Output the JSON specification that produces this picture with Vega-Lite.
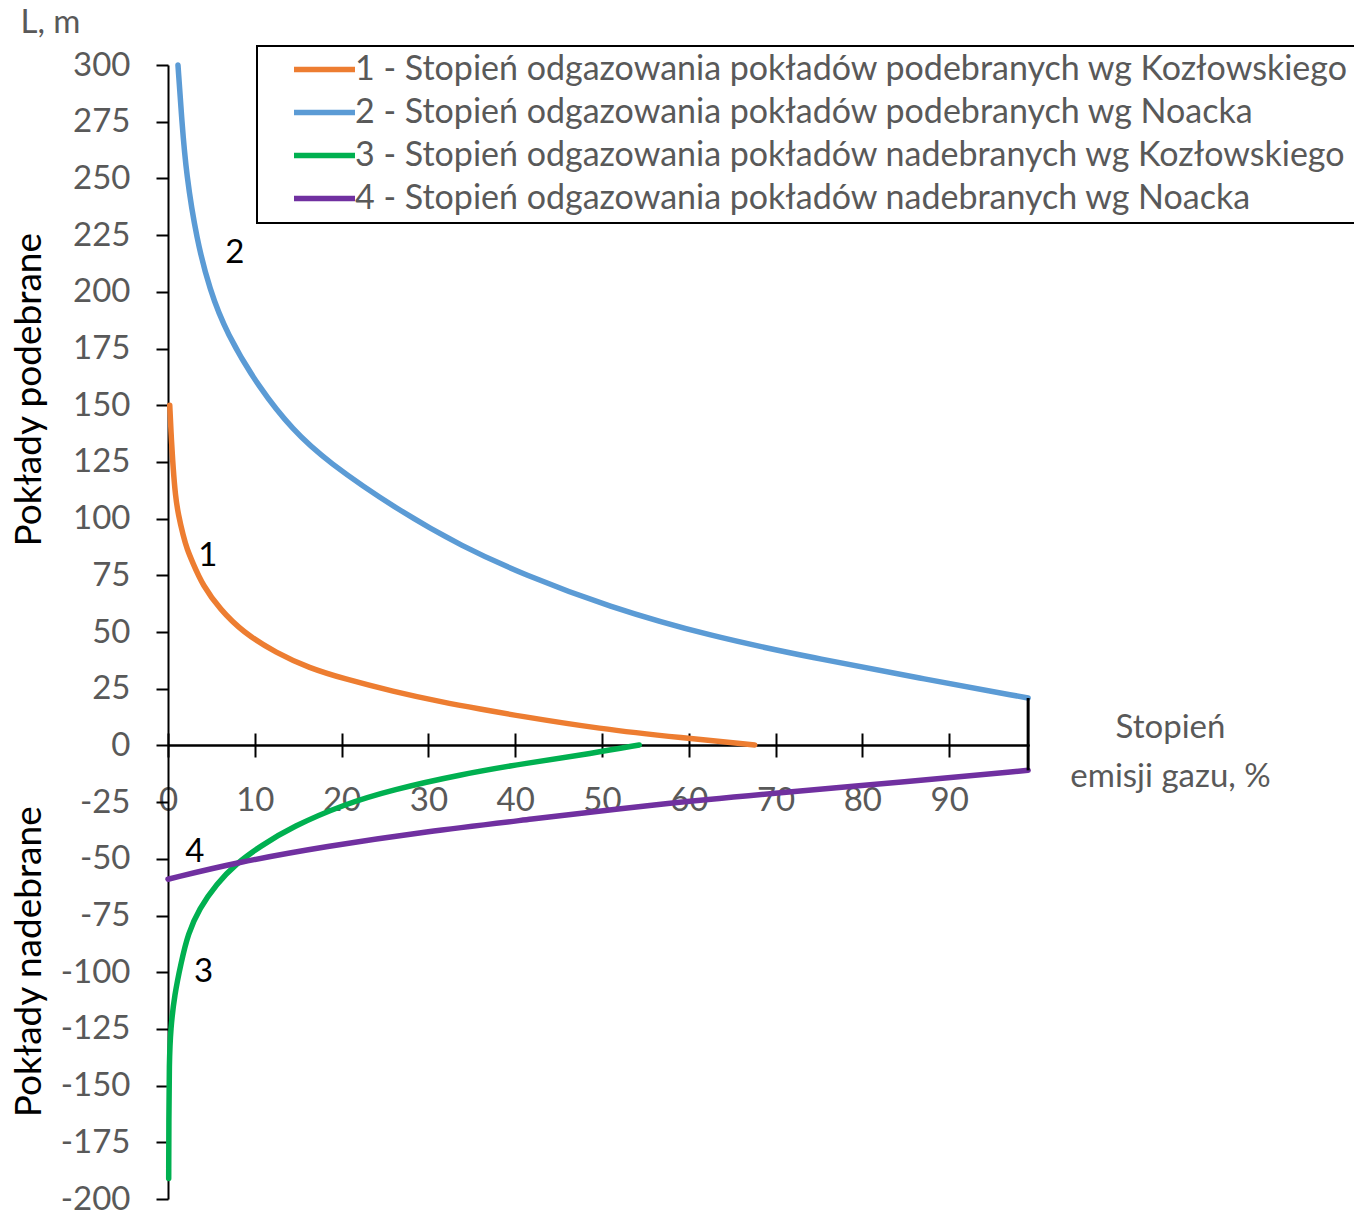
{
  "$schema": "https://vega.github.io/schema/vega-lite/v6.json",
  "width": 861,
  "height": 1134,
  "autosize": {"type": "none"},
  "padding": {"left": 168, "top": 65, "right": 325, "bottom": 19},
  "background": "white",
  "config": {
    "view": {"stroke": null},
    "font": "Lato",
    "axis": {"grid": false},
    "legend": {"strokeWidth": 2}
  },
  "datasets": {
    "krzywe": [
      {"seria": "1 - Stopień odgazowania pokładów podebranych wg Kozłowskiego", "emisja": 0.2, "L": 150},
      {"seria": "1 - Stopień odgazowania pokładów podebranych wg Kozłowskiego", "emisja": 0.4, "L": 134},
      {"seria": "1 - Stopień odgazowania pokładów podebranych wg Kozłowskiego", "emisja": 0.58, "L": 123},
      {"seria": "1 - Stopień odgazowania pokładów podebranych wg Kozłowskiego", "emisja": 0.85, "L": 110},
      {"seria": "1 - Stopień odgazowania pokładów podebranych wg Kozłowskiego", "emisja": 1.2, "L": 101.5},
      {"seria": "1 - Stopień odgazowania pokładów podebranych wg Kozłowskiego", "emisja": 1.75, "L": 92.5},
      {"seria": "1 - Stopień odgazowania pokładów podebranych wg Kozłowskiego", "emisja": 2.2, "L": 86.5},
      {"seria": "1 - Stopień odgazowania pokładów podebranych wg Kozłowskiego", "emisja": 2.8, "L": 81},
      {"seria": "1 - Stopień odgazowania pokładów podebranych wg Kozłowskiego", "emisja": 4.0, "L": 70.5},
      {"seria": "1 - Stopień odgazowania pokładów podebranych wg Kozłowskiego", "emisja": 6.0, "L": 60},
      {"seria": "1 - Stopień odgazowania pokładów podebranych wg Kozłowskiego", "emisja": 8.6, "L": 50},
      {"seria": "1 - Stopień odgazowania pokładów podebranych wg Kozłowskiego", "emisja": 12.5, "L": 40.7},
      {"seria": "1 - Stopień odgazowania pokładów podebranych wg Kozłowskiego", "emisja": 16.3, "L": 34.1},
      {"seria": "1 - Stopień odgazowania pokładów podebranych wg Kozłowskiego", "emisja": 20.2, "L": 29.5},
      {"seria": "1 - Stopień odgazowania pokładów podebranych wg Kozłowskiego", "emisja": 25.9, "L": 23.8},
      {"seria": "1 - Stopień odgazowania pokładów podebranych wg Kozłowskiego", "emisja": 31.7, "L": 19.0},
      {"seria": "1 - Stopień odgazowania pokładów podebranych wg Kozłowskiego", "emisja": 36.0, "L": 16.0},
      {"seria": "1 - Stopień odgazowania pokładów podebranych wg Kozłowskiego", "emisja": 40.1, "L": 13.2},
      {"seria": "1 - Stopień odgazowania pokładów podebranych wg Kozłowskiego", "emisja": 49.7, "L": 7.3},
      {"seria": "1 - Stopień odgazowania pokładów podebranych wg Kozłowskiego", "emisja": 59.3, "L": 3.3},
      {"seria": "1 - Stopień odgazowania pokładów podebranych wg Kozłowskiego", "emisja": 67.6, "L": 0.2},
      {"seria": "2 - Stopień odgazowania pokładów podebranych wg Noacka", "emisja": 1.15, "L": 300},
      {"seria": "2 - Stopień odgazowania pokładów podebranych wg Noacka", "emisja": 1.6, "L": 275},
      {"seria": "2 - Stopień odgazowania pokładów podebranych wg Noacka", "emisja": 2.1, "L": 252},
      {"seria": "2 - Stopień odgazowania pokładów podebranych wg Noacka", "emisja": 3.3, "L": 223},
      {"seria": "2 - Stopień odgazowania pokładów podebranych wg Noacka", "emisja": 4.8, "L": 201},
      {"seria": "2 - Stopień odgazowania pokładów podebranych wg Noacka", "emisja": 6.7, "L": 182},
      {"seria": "2 - Stopień odgazowania pokładów podebranych wg Noacka", "emisja": 10.6, "L": 157},
      {"seria": "2 - Stopień odgazowania pokładów podebranych wg Noacka", "emisja": 14.4, "L": 139},
      {"seria": "2 - Stopień odgazowania pokładów podebranych wg Noacka", "emisja": 18.2, "L": 125.5},
      {"seria": "2 - Stopień odgazowania pokładów podebranych wg Noacka", "emisja": 26.7, "L": 103.2},
      {"seria": "2 - Stopień odgazowania pokładów podebranych wg Noacka", "emisja": 33.9, "L": 87.7},
      {"seria": "2 - Stopień odgazowania pokładów podebranych wg Noacka", "emisja": 41.0, "L": 75.3},
      {"seria": "2 - Stopień odgazowania pokładów podebranych wg Noacka", "emisja": 50.6, "L": 61.3},
      {"seria": "2 - Stopień odgazowania pokładów podebranych wg Noacka", "emisja": 62.5, "L": 48.1},
      {"seria": "2 - Stopień odgazowania pokładów podebranych wg Noacka", "emisja": 74.5, "L": 38.5},
      {"seria": "2 - Stopień odgazowania pokładów podebranych wg Noacka", "emisja": 86.5, "L": 29.7},
      {"seria": "2 - Stopień odgazowania pokładów podebranych wg Noacka", "emisja": 99.1, "L": 20.9},
      {"seria": "3 - Stopień odgazowania pokładów nadebranych wg Kozłowskiego", "emisja": 0.08, "L": -191},
      {"seria": "3 - Stopień odgazowania pokładów nadebranych wg Kozłowskiego", "emisja": 0.1, "L": -165},
      {"seria": "3 - Stopień odgazowania pokładów nadebranych wg Kozłowskiego", "emisja": 0.14, "L": -140},
      {"seria": "3 - Stopień odgazowania pokładów nadebranych wg Kozłowskiego", "emisja": 0.3, "L": -125},
      {"seria": "3 - Stopień odgazowania pokładów nadebranych wg Kozłowskiego", "emisja": 0.75, "L": -110},
      {"seria": "3 - Stopień odgazowania pokładów nadebranych wg Kozłowskiego", "emisja": 1.5, "L": -96},
      {"seria": "3 - Stopień odgazowania pokładów nadebranych wg Kozłowskiego", "emisja": 2.3, "L": -83},
      {"seria": "3 - Stopień odgazowania pokładów nadebranych wg Kozłowskiego", "emisja": 3.6, "L": -72},
      {"seria": "3 - Stopień odgazowania pokładów nadebranych wg Kozłowskiego", "emisja": 5.6, "L": -61},
      {"seria": "3 - Stopień odgazowania pokładów nadebranych wg Kozłowskiego", "emisja": 7.9, "L": -52},
      {"seria": "3 - Stopień odgazowania pokładów nadebranych wg Kozłowskiego", "emisja": 10.6, "L": -44.5},
      {"seria": "3 - Stopień odgazowania pokładów nadebranych wg Kozłowskiego", "emisja": 14.4, "L": -35.7},
      {"seria": "3 - Stopień odgazowania pokładów nadebranych wg Kozłowskiego", "emisja": 20.2, "L": -26.1},
      {"seria": "3 - Stopień odgazowania pokładów nadebranych wg Kozłowskiego", "emisja": 25.9, "L": -19.5},
      {"seria": "3 - Stopień odgazowania pokładów nadebranych wg Kozłowskiego", "emisja": 33.6, "L": -12.9},
      {"seria": "3 - Stopień odgazowania pokładów nadebranych wg Kozłowskiego", "emisja": 41.3, "L": -7.8},
      {"seria": "3 - Stopień odgazowania pokładów nadebranych wg Kozłowskiego", "emisja": 49.0, "L": -3.4},
      {"seria": "3 - Stopień odgazowania pokładów nadebranych wg Kozłowskiego", "emisja": 54.3, "L": 0.2},
      {"seria": "4 - Stopień odgazowania pokładów nadebranych wg Noacka", "emisja": 0, "L": -59},
      {"seria": "4 - Stopień odgazowania pokładów nadebranych wg Noacka", "emisja": 7.9, "L": -51.6},
      {"seria": "4 - Stopień odgazowania pokładów nadebranych wg Noacka", "emisja": 18.2, "L": -44.5},
      {"seria": "4 - Stopień odgazowania pokładów nadebranych wg Noacka", "emisja": 29.8, "L": -37.9},
      {"seria": "4 - Stopień odgazowania pokładów nadebranych wg Noacka", "emisja": 41.3, "L": -32.8},
      {"seria": "4 - Stopień odgazowania pokładów nadebranych wg Noacka", "emisja": 56.6, "L": -25.8},
      {"seria": "4 - Stopień odgazowania pokładów nadebranych wg Noacka", "emisja": 70.0, "L": -21},
      {"seria": "4 - Stopień odgazowania pokładów nadebranych wg Noacka", "emisja": 85.0, "L": -16},
      {"seria": "4 - Stopień odgazowania pokładów nadebranych wg Noacka", "emisja": 99.1, "L": -11}
    ],
    "granica": [
      {"emisja": 99.1, "gora": 20.9, "dol": -11}
    ],
    "numery": [
      {"nr": "1", "emisja": 4.6, "L": 83.6},
      {"nr": "2", "emisja": 7.7, "L": 217},
      {"nr": "3", "emisja": 4.1, "L": -99.8},
      {"nr": "4", "emisja": 3.1, "L": -46.9}
    ],
    "strefy": [
      {"opis": "Pokłady podebrane", "emisja": -15.9, "L": 156.8},
      {"opis": "Pokłady nadebrane", "emisja": -15.9, "L": -95.4}
    ]
  },
  "resolve": {"axis": {"x": "independent"}},
  "layer": [
    {
      "data": {"name": "krzywe"},
      "mark": {"type": "line", "strokeWidth": 5.5, "strokeCap": "round", "interpolate": "basis"},
      "encoding": {
        "x": {
          "field": "emisja", "type": "quantitative",
          "scale": {"domain": [0, 99.2], "nice": false, "zero": false},
          "axis": {
            "orient": "bottom", "offset": -454,
            "values": [0, 10, 20, 30, 40, 50, 60, 70, 80, 90],
            "domainColor": "black", "domainWidth": 2,
            "tickColor": "black", "tickWidth": 2, "tickSize": 12,
            "labelFontSize": 33, "labelColor": "#595959", "labelPadding": 27,
            "labelFlush": false, "labelOverlap": false,
            "title": ["Stopień", "emisji gazu, %"],
            "titleFontSize": 33, "titleFontWeight": "normal", "titleColor": "#595959",
            "titleAlign": "center", "titleBaseline": "alphabetic",
            "titleLineHeight": 49, "titleX": 1002, "titleY": -8
          }
        },
        "y": {
          "field": "L", "type": "quantitative",
          "scale": {"domain": [-200, 300], "nice": false, "zero": false},
          "axis": {
            "orient": "left",
            "values": [-200, -175, -150, -125, -100, -75, -50, -25, 0, 25, 50, 75, 100, 125, 150, 175, 200, 225, 250, 275, 300],
            "labelExpr": "replace(datum.label, '−', '-')",
            "domainColor": "black", "domainWidth": 2,
            "tickColor": "black", "tickWidth": 2, "tickSize": 12,
            "labelFontSize": 33, "labelColor": "#595959", "labelPadding": 26,
            "labelFlush": false, "labelOverlap": false,
            "title": "L, m", "titleAngle": 0,
            "titleFontSize": 33, "titleFontWeight": "normal", "titleColor": "#595959",
            "titleAlign": "center", "titleBaseline": "alphabetic",
            "titleX": -118, "titleY": -33
          }
        },
        "color": {
          "field": "seria", "type": "nominal",
          "scale": {
            "domain": [
              "1 - Stopień odgazowania pokładów podebranych wg Kozłowskiego",
              "2 - Stopień odgazowania pokładów podebranych wg Noacka",
              "3 - Stopień odgazowania pokładów nadebranych wg Kozłowskiego",
              "4 - Stopień odgazowania pokładów nadebranych wg Noacka"
            ],
            "range": ["#ED7D31", "#5B9BD5", "#00B050", "#7030A0"]
          },
          "legend": {
            "orient": "none", "legendX": 89, "legendY": -19,
            "title": null,
            "strokeColor": "black", "fillColor": "white",
            "padding": 7,
            "clipHeight": 33,
            "symbolType": "stroke", "symbolSize": 3721, "symbolStrokeWidth": 5.5,
            "symbolOffset": 27,
            "labelFontSize": 34, "labelColor": "#595959", "labelLimit": 1300,
            "labelOffset": -3, "rowPadding": 8
          }
        }
      }
    },
    {
      "data": {"name": "granica"},
      "mark": {"type": "rule", "strokeWidth": 3, "color": "black"},
      "encoding": {
        "x": {
          "field": "emisja", "type": "quantitative",
          "axis": {
            "orient": "top", "offset": -680,
            "values": [0, 10, 20, 30, 40, 50, 60, 70, 80, 90],
            "domainColor": "black", "domainWidth": 2,
            "tickColor": "black", "tickWidth": 2, "tickSize": 12,
            "labels": false, "title": null
          }
        },
        "y": {"field": "gora", "type": "quantitative"},
        "y2": {"field": "dol"}
      }
    },
    {
      "data": {"name": "numery"},
      "mark": {"type": "text", "fontSize": 33, "color": "black", "align": "center", "baseline": "middle"},
      "encoding": {
        "x": {"field": "emisja", "type": "quantitative", "axis": null},
        "y": {"field": "L", "type": "quantitative"},
        "text": {"field": "nr"}
      }
    },
    {
      "data": {"name": "strefy"},
      "mark": {"type": "text", "fontSize": 37, "color": "black", "align": "center", "baseline": "middle", "angle": 270, "clip": false},
      "encoding": {
        "x": {"field": "emisja", "type": "quantitative", "axis": null},
        "y": {"field": "L", "type": "quantitative"},
        "text": {"field": "opis"}
      }
    }
  ]
}
